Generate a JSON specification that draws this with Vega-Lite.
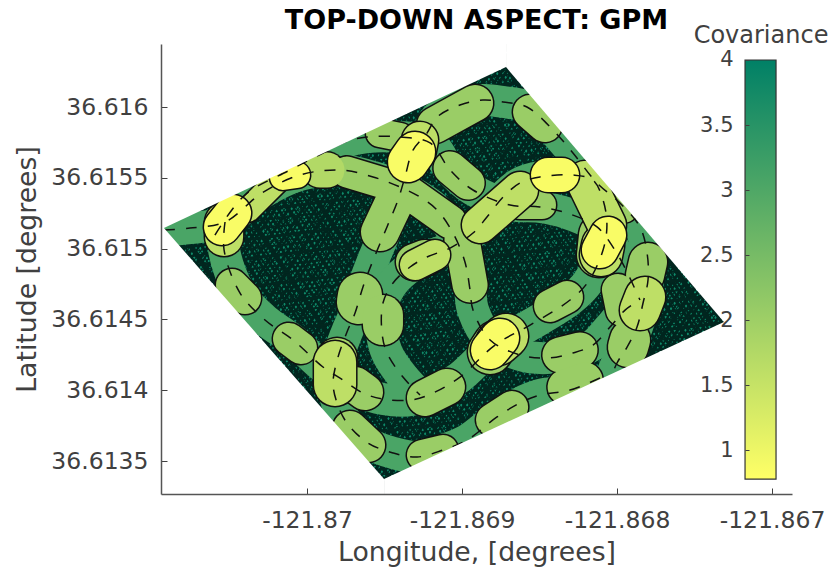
{"$schema":"https://vega.github.io/schema/vega-lite/v6.json","width":631,"height":450,"autosize":{"type":"none"},"padding":{"left":161,"top":44,"right":40,"bottom":77},"background":"white",
"title":{"text":"TOP-DOWN ASPECT: GPM","font":"DejaVu Sans","fontSize":27,"fontWeight":"bold","color":"#000000","anchor":"middle","frame":"group","offset":-11},
"config":{"view":{"stroke":null},"axis":{"labelFont":"DejaVu Sans","titleFont":"DejaVu Sans","titleFontWeight":"normal","labelColor":"#404040","titleColor":"#404040","domainColor":"#555555","tickColor":"#404040","grid":false}},
"datasets":{
"region":[{"i":0,"lon":-121.870923,"lat":36.615145},{"i":1,"lon":-121.868716,"lat":36.616282},{"i":2,"lon":-121.86731,"lat":36.614482},{"i":3,"lon":-121.869503,"lat":36.613373},{"i":4,"lon":-121.870923,"lat":36.615145}],
"weave":[{"w":"a","lon":-121.8715,"lat":36.6168},{"w":"a","lon":-121.8663,"lat":36.613},{"w":"b","lon":-121.8715,"lat":36.613},{"w":"b","lon":-121.8663,"lat":36.6168},{"w":"c","lon":-121.8692,"lat":36.6172},{"w":"c","lon":-121.8687,"lat":36.6128}],
"mask":[
{"m":"a","i":0,"lon":-121.870942,"lat":36.616445},{"m":"a","i":1,"lon":-121.868716,"lat":36.616445},{"m":"a","i":2,"lon":-121.868716,"lat":36.616282},{"m":"a","i":3,"lon":-121.870923,"lat":36.615145},{"m":"a","i":4,"lon":-121.870942,"lat":36.615145},
{"m":"b","i":0,"lon":-121.868716,"lat":36.616445},{"m":"b","i":1,"lon":-121.866871,"lat":36.616445},{"m":"b","i":2,"lon":-121.866871,"lat":36.614482},{"m":"b","i":3,"lon":-121.86731,"lat":36.614482},{"m":"b","i":4,"lon":-121.868716,"lat":36.616282},
{"m":"c","i":0,"lon":-121.866871,"lat":36.614482},{"m":"c","i":1,"lon":-121.866871,"lat":36.613267},{"m":"c","i":2,"lon":-121.869503,"lat":36.613267},{"m":"c","i":3,"lon":-121.869503,"lat":36.613373},{"m":"c","i":4,"lon":-121.86731,"lat":36.614482},
{"m":"d","i":0,"lon":-121.870942,"lat":36.615145},{"m":"d","i":1,"lon":-121.870923,"lat":36.615145},{"m":"d","i":2,"lon":-121.869503,"lat":36.613373},{"m":"d","i":3,"lon":-121.869503,"lat":36.613267},{"m":"d","i":4,"lon":-121.870942,"lat":36.613267}],
"tracks":[
{"t":"A","i":0,"lon":-121.86811,"lat":36.614086},{"t":"A","i":1,"lon":-121.868303,"lat":36.614001},{"t":"A","i":2,"lon":-121.868497,"lat":36.613966},{"t":"A","i":3,"lon":-121.868626,"lat":36.61391},{"t":"A","i":4,"lon":-121.868774,"lat":36.613811},{"t":"A","i":5,"lon":-121.868968,"lat":36.613648},{"t":"A","i":6,"lon":-121.869123,"lat":36.613578},{"t":"A","i":7,"lon":-121.86929,"lat":36.613528},{"t":"A","i":8,"lon":-121.869445,"lat":36.613557},{"t":"A","i":9,"lon":-121.869606,"lat":36.613627},{"t":"A","i":10,"lon":-121.869742,"lat":36.613768},{"t":"A","i":11,"lon":-121.869806,"lat":36.61391},{"t":"A","i":12,"lon":-121.869832,"lat":36.614051},{"t":"A","i":13,"lon":-121.8698,"lat":36.614234},{"t":"A","i":14,"lon":-121.869742,"lat":36.614411},{"t":"A","i":15,"lon":-121.86969,"lat":36.614545},{"t":"A","i":16,"lon":-121.869639,"lat":36.614729},{"t":"A","i":17,"lon":-121.869581,"lat":36.614898},{"t":"A","i":18,"lon":-121.869484,"lat":36.615153},{"t":"A","i":19,"lon":-121.869413,"lat":36.615343},{"t":"A","i":20,"lon":-121.869368,"lat":36.615506},{"t":"A","i":21,"lon":-121.869316,"lat":36.615696},{"t":"A","i":22,"lon":-121.869226,"lat":36.615816},{"t":"A","i":23,"lon":-121.869161,"lat":36.615929},{"t":"A","i":24,"lon":-121.869013,"lat":36.616014},{"t":"A","i":25,"lon":-121.868865,"lat":36.616049},{"t":"A","i":26,"lon":-121.868735,"lat":36.616035},{"t":"A","i":27,"lon":-121.868581,"lat":36.616},{"t":"A","i":28,"lon":-121.868413,"lat":36.615838},{"t":"A","i":29,"lon":-121.868284,"lat":36.615675},{"t":"A","i":30,"lon":-121.868129,"lat":36.615463},{"t":"A","i":31,"lon":-121.867981,"lat":36.615322},{"t":"A","i":32,"lon":-121.867852,"lat":36.615153},{"t":"A","i":33,"lon":-121.867806,"lat":36.614969},{"t":"A","i":34,"lon":-121.8678,"lat":36.614778},{"t":"A","i":35,"lon":-121.867832,"lat":36.614616},{"t":"A","i":36,"lon":-121.867871,"lat":36.614446},{"t":"A","i":37,"lon":-121.867935,"lat":36.614305},{"t":"A","i":38,"lon":-121.868,"lat":36.614192},{"t":"A","i":39,"lon":-121.868058,"lat":36.614037},
{"t":"B","i":0,"lon":-121.870923,"lat":36.615131},{"t":"B","i":1,"lon":-121.870755,"lat":36.615145},{"t":"B","i":2,"lon":-121.870529,"lat":36.615188},{"t":"B","i":3,"lon":-121.87029,"lat":36.615393},{"t":"B","i":4,"lon":-121.870045,"lat":36.61552},{"t":"B","i":5,"lon":-121.869787,"lat":36.615555},{"t":"B","i":6,"lon":-121.869574,"lat":36.615506},{"t":"B","i":7,"lon":-121.8694,"lat":36.615435},{"t":"B","i":8,"lon":-121.869271,"lat":36.615364},{"t":"B","i":9,"lon":-121.869161,"lat":36.615273},{"t":"B","i":10,"lon":-121.869058,"lat":36.61511},{"t":"B","i":11,"lon":-121.868981,"lat":36.614905},{"t":"B","i":12,"lon":-121.868948,"lat":36.614708},{"t":"B","i":13,"lon":-121.868929,"lat":36.614566},{"t":"B","i":14,"lon":-121.868819,"lat":36.614355},{"t":"B","i":15,"lon":-121.868626,"lat":36.614249},{"t":"B","i":16,"lon":-121.868452,"lat":36.614227},{"t":"B","i":17,"lon":-121.868284,"lat":36.614263},{"t":"B","i":18,"lon":-121.868155,"lat":36.614319},{"t":"B","i":19,"lon":-121.868045,"lat":36.614446},{"t":"B","i":20,"lon":-121.867948,"lat":36.614566},{"t":"B","i":21,"lon":-121.867852,"lat":36.614637},
{"t":"C","i":0,"lon":-121.870529,"lat":36.615188},{"t":"C","i":1,"lon":-121.870535,"lat":36.61499},{"t":"C","i":2,"lon":-121.870432,"lat":36.614686},{"t":"C","i":3,"lon":-121.870271,"lat":36.614496},{"t":"C","i":4,"lon":-121.87009,"lat":36.614355},{"t":"C","i":5,"lon":-121.869897,"lat":36.614164},{"t":"C","i":6,"lon":-121.869768,"lat":36.614072},{"t":"C","i":7,"lon":-121.869639,"lat":36.61398},{"t":"C","i":8,"lon":-121.86951,"lat":36.613938},{"t":"C","i":9,"lon":-121.869323,"lat":36.613931},{"t":"C","i":10,"lon":-121.869187,"lat":36.61398},{"t":"C","i":11,"lon":-121.869013,"lat":36.614093},{"t":"C","i":12,"lon":-121.868787,"lat":36.614319},{"t":"C","i":13,"lon":-121.868561,"lat":36.61446},{"t":"C","i":14,"lon":-121.868303,"lat":36.614637},{"t":"C","i":15,"lon":-121.868187,"lat":36.614764},{"t":"C","i":16,"lon":-121.86809,"lat":36.61499},{"t":"C","i":17,"lon":-121.868065,"lat":36.615167},{"t":"C","i":18,"lon":-121.86809,"lat":36.615343},{"t":"C","i":19,"lon":-121.868155,"lat":36.615484},{"t":"C","i":20,"lon":-121.868284,"lat":36.61552},{"t":"C","i":21,"lon":-121.868497,"lat":36.615506},{"t":"C","i":22,"lon":-121.868626,"lat":36.615463},{"t":"C","i":23,"lon":-121.868735,"lat":36.615364},{"t":"C","i":24,"lon":-121.868839,"lat":36.615223},{"t":"C","i":25,"lon":-121.868929,"lat":36.61511},{"t":"C","i":26,"lon":-121.869077,"lat":36.615004},{"t":"C","i":27,"lon":-121.869226,"lat":36.614941},{"t":"C","i":28,"lon":-121.869335,"lat":36.61487},{"t":"C","i":29,"lon":-121.869445,"lat":36.614757},{"t":"C","i":30,"lon":-121.86951,"lat":36.614616},{"t":"C","i":31,"lon":-121.869516,"lat":36.614404},{"t":"C","i":32,"lon":-121.869484,"lat":36.614263},{"t":"C","i":33,"lon":-121.869381,"lat":36.614093},{"t":"C","i":34,"lon":-121.869271,"lat":36.613966},
{"t":"G","i":0,"lon":-121.870594,"lat":36.615096},{"t":"G","i":1,"lon":-121.8704,"lat":36.615379},{"t":"G","i":2,"lon":-121.87011,"lat":36.615555},{"t":"G","i":3,"lon":-121.869897,"lat":36.615675},{"t":"G","i":4,"lon":-121.869755,"lat":36.615753},{"t":"G","i":5,"lon":-121.869613,"lat":36.615788},{"t":"G","i":6,"lon":-121.8694,"lat":36.615788},{"t":"G","i":7,"lon":-121.869206,"lat":36.615746},{"t":"G","i":8,"lon":-121.869077,"lat":36.615555},{"t":"G","i":9,"lon":-121.868929,"lat":36.615414},{"t":"G","i":10,"lon":-121.86869,"lat":36.615308},{"t":"G","i":11,"lon":-121.868497,"lat":36.615294},{"t":"G","i":12,"lon":-121.868323,"lat":36.615251},{"t":"G","i":13,"lon":-121.868129,"lat":36.615153},{"t":"G","i":14,"lon":-121.868026,"lat":36.615011},{"t":"G","i":15,"lon":-121.867948,"lat":36.614863},{"t":"G","i":16,"lon":-121.867852,"lat":36.614637}],
"swaths":[
{"id":"a1","level":1,"cov":2.05,"swath":31,"lon":-121.869742,"lat":36.615541},{"id":"a1","level":1,"cov":2.05,"swath":31,"lon":-121.8694,"lat":36.615428},
{"id":"a2","level":1,"cov":2.05,"swath":38,"lon":-121.8694,"lat":36.615414},{"id":"a2","level":1,"cov":2.05,"swath":38,"lon":-121.869529,"lat":36.615117},
{"id":"a3","level":1,"cov":2.05,"swath":33,"lon":-121.869368,"lat":36.615414},{"id":"a3","level":1,"cov":2.05,"swath":33,"lon":-121.869077,"lat":36.615188},
{"id":"a4","level":1,"cov":2.05,"swath":35,"lon":-121.869,"lat":36.615061},{"id":"a4","level":1,"cov":2.05,"swath":35,"lon":-121.868948,"lat":36.614743},
{"id":"a5","level":1,"cov":2.05,"swath":33,"lon":-121.869077,"lat":36.615569},{"id":"a5","level":1,"cov":2.05,"swath":33,"lon":-121.868961,"lat":36.615463},
{"id":"a6","level":1,"cov":2.05,"swath":28,"lon":-121.869529,"lat":36.615816},{"id":"a6","level":1,"cov":2.05,"swath":28,"lon":-121.8694,"lat":36.615788},
{"id":"a7","level":1,"cov":2.05,"swath":36,"lon":-121.869174,"lat":36.615873},{"id":"a7","level":1,"cov":2.05,"swath":36,"lon":-121.868916,"lat":36.616028},
{"id":"a8","level":1,"cov":2.05,"swath":34,"lon":-121.868561,"lat":36.615965},{"id":"a8","level":1,"cov":2.05,"swath":34,"lon":-121.868465,"lat":36.615873},
{"id":"a9","level":1,"cov":2.05,"swath":36,"lon":-121.86931,"lat":36.614905},{"id":"a9","level":1,"cov":2.05,"swath":36,"lon":-121.869239,"lat":36.614934},
{"id":"a10","level":1,"cov":2.05,"swath":28,"lon":-121.868626,"lat":36.615308},{"id":"a10","level":1,"cov":2.05,"swath":28,"lon":-121.868484,"lat":36.615308},
{"id":"a11","level":1,"cov":2.05,"swath":25,"lon":-121.868045,"lat":36.615379},{"id":"a11","level":1,"cov":2.05,"swath":25,"lon":-121.867948,"lat":36.615273},
{"id":"a12","level":1,"cov":2.05,"swath":38,"lon":-121.8678,"lat":36.614905},{"id":"a12","level":1,"cov":2.05,"swath":38,"lon":-121.867819,"lat":36.614814},
{"id":"a13","level":1,"cov":2.05,"swath":32,"lon":-121.867994,"lat":36.614708},{"id":"a13","level":1,"cov":2.05,"swath":32,"lon":-121.867968,"lat":36.614566},
{"id":"a14","level":1,"cov":2.05,"swath":40,"lon":-121.867916,"lat":36.614355},{"id":"a14","level":1,"cov":2.05,"swath":40,"lon":-121.867929,"lat":36.614305},
{"id":"a15","level":1,"cov":2.05,"swath":32,"lon":-121.868432,"lat":36.614595},{"id":"a15","level":1,"cov":2.05,"swath":32,"lon":-121.868323,"lat":36.614658},
{"id":"a16","level":1,"cov":2.05,"swath":35,"lon":-121.868368,"lat":36.614249},{"id":"a16","level":1,"cov":2.05,"swath":35,"lon":-121.868239,"lat":36.614284},
{"id":"a17","level":1,"cov":2.05,"swath":35,"lon":-121.868335,"lat":36.614023},{"id":"a17","level":1,"cov":2.05,"swath":35,"lon":-121.868206,"lat":36.614072},
{"id":"a18","level":1,"cov":2.05,"swath":44,"lon":-121.869658,"lat":36.614672},{"id":"a18","level":1,"cov":2.05,"swath":44,"lon":-121.869665,"lat":36.614623},
{"id":"a19","level":1,"cov":2.05,"swath":40,"lon":-121.86951,"lat":36.614531},{"id":"a19","level":1,"cov":2.05,"swath":40,"lon":-121.86951,"lat":36.61446},
{"id":"a20","level":1,"cov":2.05,"swath":36,"lon":-121.86969,"lat":36.614037},{"id":"a20","level":1,"cov":2.05,"swath":36,"lon":-121.869626,"lat":36.613987},
{"id":"a21","level":1,"cov":2.05,"swath":32,"lon":-121.870116,"lat":36.614362},{"id":"a21","level":1,"cov":2.05,"swath":32,"lon":-121.870039,"lat":36.614298},
{"id":"a22","level":1,"cov":2.05,"swath":32,"lon":-121.870484,"lat":36.614743},{"id":"a22","level":1,"cov":2.05,"swath":32,"lon":-121.8704,"lat":36.614651},
{"id":"a23","level":1,"cov":2.05,"swath":34,"lon":-121.869723,"lat":36.613733},{"id":"a23","level":1,"cov":2.05,"swath":34,"lon":-121.869606,"lat":36.613613},
{"id":"a24","level":1,"cov":2.05,"swath":30,"lon":-121.869258,"lat":36.613542},{"id":"a24","level":1,"cov":2.05,"swath":30,"lon":-121.869123,"lat":36.613578},
{"id":"a25","level":1,"cov":2.05,"swath":32,"lon":-121.868806,"lat":36.61379},{"id":"a25","level":1,"cov":2.05,"swath":32,"lon":-121.868677,"lat":36.613881},
{"id":"a26","level":1,"cov":2.05,"swath":36,"lon":-121.869239,"lat":36.613945},{"id":"a26","level":1,"cov":2.05,"swath":36,"lon":-121.869097,"lat":36.614023},
{"id":"a27","level":1,"cov":1.75,"swath":35,"lon":-121.869916,"lat":36.615555},{"id":"a27","level":1,"cov":1.75,"swath":35,"lon":-121.869871,"lat":36.615555},
{"id":"a28","level":1,"cov":1.6,"swath":38,"lon":-121.870535,"lat":36.615188},{"id":"a28","level":1,"cov":1.6,"swath":38,"lon":-121.870535,"lat":36.615082},
{"id":"a29","level":1,"cov":1.6,"swath":24,"lon":-121.870381,"lat":36.615273},{"id":"a29","level":1,"cov":1.6,"swath":24,"lon":-121.870187,"lat":36.615484},
{"id":"a30","level":1,"cov":2.05,"swath":44,"lon":-121.868781,"lat":36.614333},{"id":"a30","level":1,"cov":2.05,"swath":44,"lon":-121.868819,"lat":36.61427},
{"id":"a31","level":1,"cov":2.05,"swath":44,"lon":-121.868103,"lat":36.615096},{"id":"a31","level":1,"cov":2.05,"swath":44,"lon":-121.868116,"lat":36.614955},
{"id":"a32","level":1,"cov":1.9,"swath":40,"lon":-121.869806,"lat":36.614227},{"id":"a32","level":1,"cov":1.9,"swath":40,"lon":-121.869806,"lat":36.614129},
{"id":"b1","level":2,"cov":1.6,"swath":36,"lon":-121.869271,"lat":36.615767},{"id":"b1","level":2,"cov":1.6,"swath":36,"lon":-121.869284,"lat":36.615696},
{"id":"b2","level":2,"cov":1.6,"swath":30,"lon":-121.869303,"lat":36.614884},{"id":"b2","level":2,"cov":1.6,"swath":30,"lon":-121.869174,"lat":36.614955},
{"id":"b3","level":2,"cov":1.6,"swath":36,"lon":-121.868884,"lat":36.615167},{"id":"b3","level":2,"cov":1.6,"swath":36,"lon":-121.868626,"lat":36.615414},
{"id":"b4","level":2,"cov":1.6,"swath":38,"lon":-121.868206,"lat":36.615484},{"id":"b4","level":2,"cov":1.6,"swath":38,"lon":-121.868065,"lat":36.615167},
{"id":"b5","level":2,"cov":1.6,"swath":42,"lon":-121.86809,"lat":36.615025},{"id":"b5","level":2,"cov":1.6,"swath":42,"lon":-121.868103,"lat":36.614955},
{"id":"b6","level":2,"cov":1.6,"swath":40,"lon":-121.867819,"lat":36.614658},{"id":"b6","level":2,"cov":1.6,"swath":40,"lon":-121.867852,"lat":36.614566},
{"id":"b7","level":2,"cov":1.6,"swath":44,"lon":-121.868716,"lat":36.614383},{"id":"b7","level":2,"cov":1.6,"swath":44,"lon":-121.868768,"lat":36.614333},
{"id":"b8","level":2,"cov":1.6,"swath":42,"lon":-121.869819,"lat":36.614199},{"id":"b8","level":2,"cov":1.6,"swath":42,"lon":-121.869819,"lat":36.614037},
{"id":"c1","level":3,"cov":0.85,"swath":36,"lon":-121.870477,"lat":36.615251},{"id":"c1","level":3,"cov":0.85,"swath":36,"lon":-121.870548,"lat":36.615153},
{"id":"c2","level":3,"cov":0.85,"swath":26,"lon":-121.870155,"lat":36.615506},{"id":"c2","level":3,"cov":0.85,"swath":26,"lon":-121.870065,"lat":36.61552},
{"id":"c3","level":3,"cov":0.85,"swath":40,"lon":-121.869303,"lat":36.615682},{"id":"c3","level":3,"cov":0.85,"swath":40,"lon":-121.869348,"lat":36.615612},
{"id":"c4","level":3,"cov":0.85,"swath":34,"lon":-121.868445,"lat":36.61552},{"id":"c4","level":3,"cov":0.85,"swath":34,"lon":-121.868355,"lat":36.61552},
{"id":"c5","level":3,"cov":0.85,"swath":36,"lon":-121.868058,"lat":36.615096},{"id":"c5","level":3,"cov":0.85,"swath":36,"lon":-121.86811,"lat":36.61499},
{"id":"c6","level":3,"cov":0.85,"swath":38,"lon":-121.868755,"lat":36.614369},{"id":"c6","level":3,"cov":0.85,"swath":38,"lon":-121.868819,"lat":36.614284}]
},
"encoding":{"x":{"field":"lon","type":"quantitative","scale":{"domain":[-121.870942,-121.866871],"nice":false,"zero":false},"axis":{"title":"Longitude, [degrees]","values":[-121.87,-121.869,-121.868,-121.867],"format":".3~f","labelExpr":"replace(datum.label,'\u2212','-')","labelFontSize":23.5,"titleFontSize":26.7,"tickSize":-6,"labelPadding":20,"titlePadding":8,"domainWidth":1.5,"zindex":1,"labelFlush":false,"labelOverlap":false}}},
"layer":[
{"resolve":{"scale":{"size":"independent"}},
"encoding":{"y":{"field":"lat","type":"quantitative","scale":{"domain":[36.613267,36.616445],"nice":false,"zero":false},"axis":{"title":"Latitude [degrees]","values":[36.6135,36.614,36.6145,36.615,36.6155,36.616],"format":".4~f","labelFontSize":23.5,"titleFontSize":26.7,"tickSize":-6,"labelPadding":19,"titlePadding":9,"domainWidth":1.5,"zindex":1,"labelOverlap":false}}},
"layer":[
{"data":{"name":"region"},"mark":{"type":"line","fill":"#0f8a6a","stroke":"#0f8a6a","strokeWidth":0},"encoding":{"order":{"field":"i"}}},
{"data":{"name":"weave"},"transform":[{"filter":{"field":"w","equal":"a"}}],"mark":{"type":"line","clip":true,"stroke":"#01261f","strokeWidth":1100,"strokeDash":[2,2,1,1,3,2,2,2,1,2,3,1,2,2,1,2,3,2,2,1,1,1,4,2,2,2,3,1,3,2]},"encoding":{}},
{"data":{"name":"weave"},"transform":[{"filter":{"field":"w","equal":"b"}}],"mark":{"type":"line","clip":true,"stroke":"#01261f","strokeWidth":1100,"strokeDash":[1,2,3,2,2,2,3,1,1,1,2,2,3,2,1,2,4,2,2,1,1,2,3,1,2,2,3,1,2,2,5,2]},"encoding":{}},
{"data":{"name":"weave"},"transform":[{"filter":{"field":"w","equal":"c"}}],"mark":{"type":"line","clip":true,"stroke":"#01261f","strokeWidth":1300,"strokeDash":[1,3,2,4,1,2,3,3,1,4,2,2,1,3,2,4,1,2,3,3]},"encoding":{}},
{"data":{"name":"tracks"},"mark":{"type":"line","stroke":"#4aa566","strokeWidth":32,"interpolate":"catmull-rom","strokeCap":"butt","strokeJoin":"round"},"encoding":{"detail":{"field":"t"},"order":{"field":"i"}}},
{"data":{"name":"swaths"},"transform":[{"filter":{"field":"level","equal":1}}],"mark":{"type":"line","stroke":"#111111","strokeCap":"round"},"encoding":{"detail":{"field":"id"},"size":{"field":"swath","type":"quantitative","legend":null,"scale":{"domain":[0,50],"range":[3,53]}}}},
{"data":{"name":"swaths"},"transform":[{"filter":{"field":"level","equal":1}}],"mark":{"type":"line","strokeCap":"round"},"encoding":{"detail":{"field":"id"},"color":{"field":"cov","type":"quantitative","legend":null,"scale":{"domain":[0.777,4],"range":["#ffff66","#008066"],"interpolate":"rgb"}},"size":{"field":"swath","type":"quantitative","legend":null,"scale":{"domain":[0,50],"range":[0,50]}}}},
{"data":{"name":"swaths"},"transform":[{"filter":{"field":"level","equal":2}}],"mark":{"type":"line","stroke":"#111111","strokeCap":"round"},"encoding":{"detail":{"field":"id"},"size":{"field":"swath","type":"quantitative","legend":null,"scale":{"domain":[0,50],"range":[3,53]}}}},
{"data":{"name":"swaths"},"transform":[{"filter":{"field":"level","equal":2}}],"mark":{"type":"line","strokeCap":"round"},"encoding":{"detail":{"field":"id"},"color":{"field":"cov","type":"quantitative","legend":null,"scale":{"domain":[0.777,4],"range":["#ffff66","#008066"],"interpolate":"rgb"}},"size":{"field":"swath","type":"quantitative","legend":null,"scale":{"domain":[0,50],"range":[0,50]}}}},
{"data":{"name":"swaths"},"transform":[{"filter":{"field":"level","equal":3}}],"mark":{"type":"line","stroke":"#111111","strokeCap":"round"},"encoding":{"detail":{"field":"id"},"size":{"field":"swath","type":"quantitative","legend":null,"scale":{"domain":[0,50],"range":[3,53]}}}},
{"data":{"name":"swaths"},"transform":[{"filter":{"field":"level","equal":3}}],"mark":{"type":"line","strokeCap":"round"},"encoding":{"detail":{"field":"id"},"color":{"field":"cov","type":"quantitative","legend":null,"scale":{"domain":[0.777,4],"range":["#ffff66","#008066"],"interpolate":"rgb"}},"size":{"field":"swath","type":"quantitative","legend":null,"scale":{"domain":[0,50],"range":[0,50]}}}},
{"data":{"name":"tracks"},"mark":{"type":"line","stroke":"#111111","strokeWidth":1.5,"strokeDash":[11,11],"interpolate":"catmull-rom"},"encoding":{"detail":{"field":"t"},"order":{"field":"i"}}},
{"data":{"name":"mask"},"mark":{"type":"line","fill":"#ffffff","stroke":"#ffffff","strokeWidth":0},"encoding":{"detail":{"field":"m"},"order":{"field":"i"}}}
]},
{"encoding":{"y":{"field":"cov","type":"quantitative","scale":{"domain":[0.662,4.123],"nice":false,"zero":false},"axis":{"orient":"left","offset":-584,"title":null,"values":[1,1.5,2,2.5,3,3.5,4],"format":"~g","labelFontSize":21,"tickSize":-4,"labelPadding":16,"domain":false,"zindex":1,"labelOverlap":false}}},
"layer":[
{"data":{"values":[{"lon":-121.867174,"lon2":-121.866974,"cov":0.777,"cov2":4}]},"mark":{"type":"rect","stroke":"#333333","strokeWidth":1.2,"fill":{"gradient":"linear","x1":0,"y1":1,"x2":0,"y2":0,"stops":[{"offset":0,"color":"#ffff66"},{"offset":1,"color":"#008066"}]}},"encoding":{"x2":{"field":"lon2"},"y2":{"field":"cov2"}}},
{"data":{"values":[{"lon":-121.867071,"cov":4.185,"label":"Covariance"}]},"mark":{"type":"text","font":"DejaVu Sans","fontSize":24,"color":"#404040","baseline":"middle","align":"center"},"encoding":{"text":{"field":"label"}}}
]}
],
"resolve":{"scale":{"y":"independent"}}}
